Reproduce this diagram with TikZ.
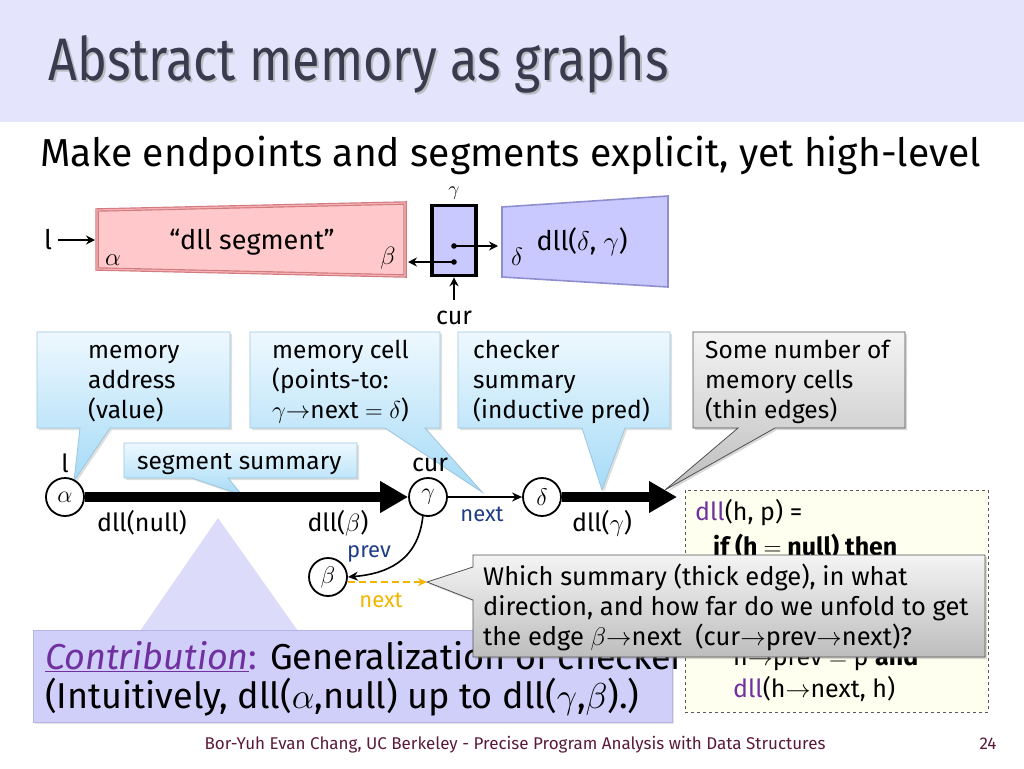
\RequirePackage{fix-cm}
\documentclass[tikz,border=0pt]{standalone}
\usepackage{fontspec}
\setmainfont{Fira Sans}
\usetikzlibrary{arrows.meta,shadows,calc}
\definecolor{titleband}{HTML}{E4E4FC}
\definecolor{titletext}{HTML}{3B3B4F}
\definecolor{pinkfill}{HTML}{FFC9CB}
\definecolor{pinkdark}{HTML}{D27C80}
\definecolor{pinklight}{HTML}{F4B0B4}
\definecolor{bluefill}{HTML}{C9C9FF}
\definecolor{blueborder}{HTML}{8F8FD0}
\definecolor{cbtop}{HTML}{EEF8FE}
\definecolor{cbbot}{HTML}{A6DBF7}
\definecolor{cbborder}{HTML}{9CC6DE}
\definecolor{cgtop}{HTML}{F4F4F4}
\definecolor{cgbot}{HTML}{BDBDBD}
\definecolor{cgborder}{HTML}{505050}
\definecolor{navy}{HTML}{1F3C88}
\definecolor{orng}{HTML}{F2B600}
\definecolor{contrib}{HTML}{CFCFFA}
\definecolor{contribborder}{HTML}{B4B4E6}
\definecolor{tri}{HTML}{D6D6FA}
\definecolor{purp}{HTML}{7030A0}
\definecolor{footer}{HTML}{5C1A3A}
\definecolor{dllfill}{HTML}{FFFFF0}
\tikzset{
  blueco/.style={top color=cbtop, bottom color=cbbot, draw=cbborder, line width=0.8pt,
    drop shadow={opacity=0.25, shadow xshift=2pt, shadow yshift=-2pt}},
  grayco/.style={top color=cgtop, bottom color=cgbot, draw=cgborder, line width=0.8pt,
    drop shadow={opacity=0.3, shadow xshift=2pt, shadow yshift=-2pt}},
  cotext/.style={anchor=base west, inner sep=0, font=\fontsize{24.5}{30}\selectfont},
  lbl/.style={anchor=base, inner sep=0, font=\fontsize{25}{28}\selectfont},
  addr/.style={circle, draw, line width=1.8pt, fill=white, minimum size=38pt, inner sep=0,
    font=\fontsize{24}{26}\selectfont},
  thickedge/.style={line width=9.5pt, -{Triangle[length=28pt,width=30pt]}},
  thinedge/.style={line width=1.6pt, -{Stealth[length=10pt,width=9pt]}},
  topar/.style={line width=2.6pt, -{Stealth[length=9pt,width=9pt]}},
  dlltext/.style={anchor=base west, inner sep=0, font=\fontsize{25}{28}\selectfont},
}
\begin{document}
\begin{tikzpicture}[x=1pt,y=-1pt]
\useasboundingbox (0,0) rectangle (1024,768);
\fill[white] (0,0) rectangle (1024,768);
% title band
\fill[titleband] (0,0) rectangle (1024,122);
\node[anchor=base west, inner sep=0, font=\fontsize{60}{66}\selectfont, text=gray!60, opacity=0.8] (titleshadow) at (50,82) {\scalebox{0.84}[1]{Abstract memory as graphs}};
\node[anchor=base west, inner sep=0, font=\fontsize{60}{66}\selectfont, text=titletext] (title) at (48,80) {\scalebox{0.84}[1]{Abstract memory as graphs}};
\node[anchor=base west, inner sep=0, font=\fontsize{39}{44}\selectfont] (sub) at (40,166) {Make endpoints and segments explicit, yet high-level};

% ---------- top diagram ----------
\filldraw[fill=pinkfill, draw=pinkdark, line width=3.5pt] (97,210) -- (405,203) -- (405,276) -- (97,269) -- cycle;
\draw[pinklight, line width=1.2pt] (97,210) -- (405,203) -- (405,276) -- (97,269) -- cycle;
\coordinate (pinkleft) at (95,240);
\coordinate (pinkright) at (408,262);
\node[lbl, font=\fontsize{27}{30}\selectfont] (dllseg) at (252,249) {“dll segment”};
\node[lbl] (palpha) at (113,265) {$\alpha$};
\node[lbl] (pbeta) at (388,264) {$\beta$};
\node[anchor=base, inner sep=0, font=\fontsize{27}{30}\selectfont] (tl) at (48,249) {l};
\draw[topar] (tl.east |- pinkleft) ++(6,0) coordinate (tlstart) (tlstart) -- (pinkleft);

\filldraw[fill=bluefill, draw=blueborder, line width=1.6pt] (502,207) -- (668,196) -- (668,287) -- (502,277) -- cycle;
\coordinate (blueleft) at (498,246);
\node[lbl, font=\fontsize{27}{30}\selectfont] (dlldg) at (582,250) {dll($\delta$, $\gamma$)};
\node[lbl] (bdelta) at (517,265) {$\delta$};

\node[draw, line width=3.6pt, fill=bluefill, minimum width=44pt, minimum height=70pt, inner sep=0] (gbox) at (454,240.5) {};
\node[lbl, font=\fontsize{20}{22}\selectfont] (gl) at (454,195) {$\gamma$};
\coordinate (dot1) at (454,246);
\coordinate (dot2) at (454,262);
\fill (dot1) circle (2.8);
\fill (dot2) circle (2.8);
\draw[topar] (dot1) -- (blueleft);
\draw[topar] (dot2) -- (pinkright);
\node[lbl] (tcur) at (454,324) {cur};
\draw[topar] (454,300) coordinate (curbot) (curbot) -- (gbox.south);

% ---------- callouts ----------
\path[blueco] (37,332) -- (230,332) -- (230,428) -- (110,428) -- (74,481) -- (80,428) -- (37,428) -- cycle;
\node[cotext] (c1a) at (88,358) {memory};
\node[cotext] (c1b) at (88,388) {address};
\node[cotext] (c1c) at (88,418) {(value)};

\path[blueco] (250,332) -- (440,332) -- (440,428) -- (425,428) -- (482,492) -- (385,428) -- (250,428) -- cycle;
\node[cotext] (c2a) at (272,358) {memory cell};
\node[cotext] (c2b) at (272,388) {(points-to:};
\node[cotext] (c2c) at (272,418) {$\gamma{\rightarrow}$next $=$ $\delta$)};

\path[blueco] (458,332) -- (670,332) -- (670,428) -- (625,428) -- (602,490) -- (582,428) -- (458,428) -- cycle;
\node[cotext] (c3a) at (473,358) {checker};
\node[cotext] (c3b) at (473,388) {summary};
\node[cotext] (c3c) at (473,418) {(inductive pred)};

\path[grayco] (693,332) -- (905,332) -- (905,428) -- (775,428) -- (665,490) -- (738,428) -- (693,428) -- cycle;
\node[cotext] (c4a) at (705,358) {Some number of};
\node[cotext] (c4b) at (705,388) {memory cells};
\node[cotext] (c4c) at (705,418) {(thin edges)};

\path[blueco] (124,443) -- (357,443) -- (357,478) -- (228,478) -- (242,495) -- (192,478) -- (124,478) -- cycle;
\node[cotext] (c5) at (137,469) {segment summary};

% ---------- contribution ----------
\fill[tri, opacity=0.85] (140,631) -- (218,518) -- (298,631) -- cycle;
\filldraw[fill=contrib, draw=contribborder, line width=1pt, drop shadow={opacity=0.2, shadow xshift=2pt, shadow yshift=-2pt}] (33,630) rectangle (672,722);
\node[anchor=base west, inner sep=0, font=\fontsize{36}{40}\selectfont] (contrib1) at (45,669) {\textcolor{purp}{\textit{\underline{Contribution}}:} Generalization of checker};
\node[anchor=base west, inner sep=0, font=\fontsize{36}{40}\selectfont] (contrib2) at (45,708) {(Intuitively, dll($\alpha$,null) up to dll($\gamma$,$\beta$).)};

% ---------- dll definition ----------
\filldraw[fill=dllfill, draw=black!65, dashed, line width=0.8pt] (685,490) rectangle (988,712);
\node[dlltext] (d1) at (695,520) {\textcolor{purp}{dll}(h, p) =};
\node[dlltext] (d2) at (713,555) {\textbf{if (h $=$ null) then}};
\node[dlltext] (d5) at (733,665) {h$\rightarrow$prev $=$ p \textbf{and}};
\node[dlltext] (d6) at (733,697) {\textcolor{purp}{dll}(h$\rightarrow$next, h)};

% ---------- graph ----------
\node[addr] (a) at (65,497) {$\alpha$};
\node[addr] (g) at (428,497) {$\gamma$};
\node[addr] (d) at (542,497) {$\delta$};
\node[addr] (b) at (328,577) {$\beta$};
\coordinate (dend) at (677,497);
\coordinate (bn) at (427,582);
\node[lbl] (la) at (65,472) {l};
\node[lbl] (lcur) at (430,471) {cur};
\draw[thickedge] (a) -- (g);
\draw[thickedge] (d) -- (dend);
\draw[thinedge] (g) -- (d);
\draw[thinedge] (g.255) .. controls (418,562) and (385,574) .. (b.east);
\draw[line width=2pt, orng, dashed, dash pattern=on 7pt off 4pt, -{Stealth[length=9pt,width=8pt]}] (b.east |- bn) -- (bn);
\node[lbl] (ldn) at (142,531) {dll(null)};
\node[lbl] (ldb) at (338,531) {dll($\beta$)};
\node[lbl] (ldg) at (602,531) {dll($\gamma$)};
\node[lbl, text=navy, font=\fontsize{22}{24}\selectfont] (lnext) at (482,521) {next};
\node[lbl, text=navy, font=\fontsize{22}{24}\selectfont] (lprev) at (369,557) {prev};
\node[lbl, text=orng, font=\fontsize{22}{24}\selectfont] (lnext2) at (381,607) {next};

% ---------- gray question callout ----------
\path[grayco] (473,555) -- (985,555) -- (985,657) -- (473,657) -- (473,600) -- (427,582) -- (473,567) -- cycle;
\node[cotext, font=\fontsize{25.5}{30}\selectfont] (q1) at (483,585) {Which summary (thick edge), in what};
\node[cotext, font=\fontsize{25.5}{30}\selectfont] (q2) at (483,615) {direction, and how far do we unfold to get};
\node[cotext, font=\fontsize{25.5}{30}\selectfont] (q3) at (483,645) {the edge $\beta{\rightarrow}$next\ \ (cur$\rightarrow$prev$\rightarrow$next)?};

% ---------- footer ----------
\node[anchor=base, inner sep=0, font=\fontsize{17}{20}\selectfont, text=footer] (foot) at (515,749) {Bor-Yuh Evan Chang, UC Berkeley - Precise Program Analysis with Data Structures};
\node[anchor=base, inner sep=0, font=\fontsize{17}{20}\selectfont, text=footer] (page) at (988,749) {24};
\end{tikzpicture}
\end{document}
